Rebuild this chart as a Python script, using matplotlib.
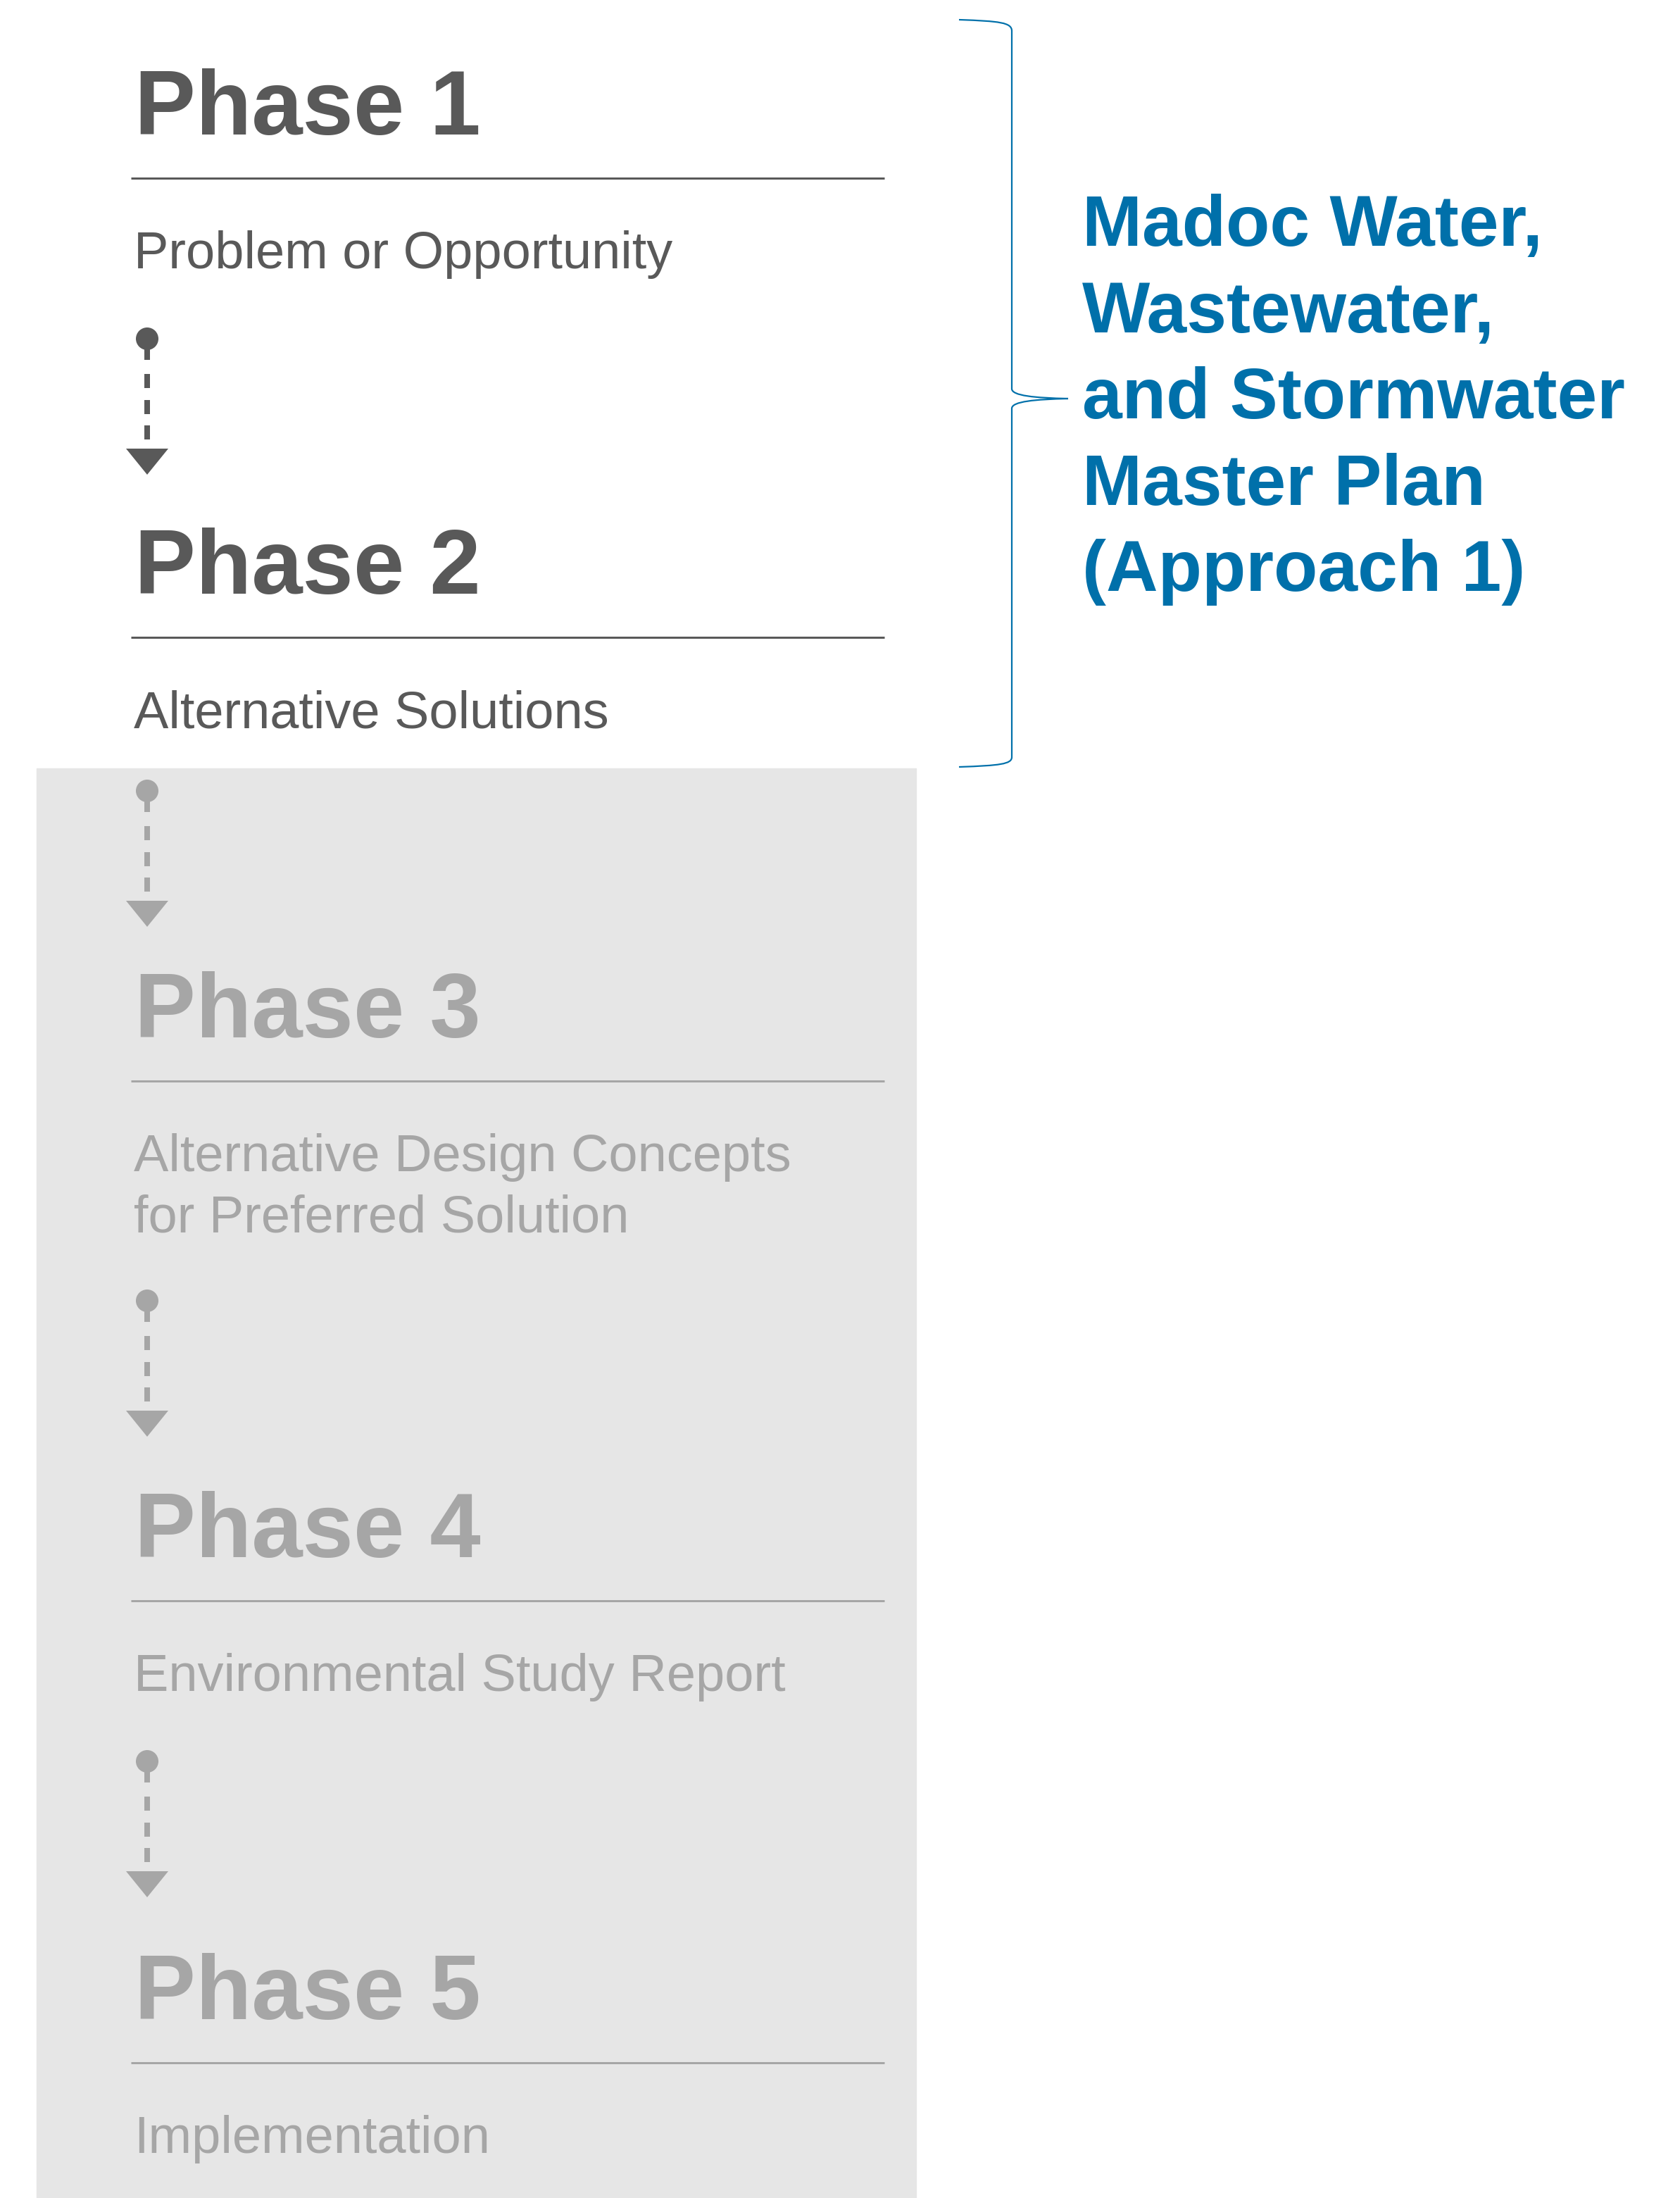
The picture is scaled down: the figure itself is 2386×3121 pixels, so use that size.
import matplotlib.pyplot as plt
from matplotlib.patches import Rectangle, Circle, Polygon, PathPatch
from matplotlib.path import Path

# Gegevens
phases = ['Phase 1', 'Phase 2', 'Phase 3', 'Phase 4', 'Phase 5']
descriptions = [
    ['Problem or Opportunity'],
    ['Alternative Solutions'],
    ['Alternative Design Concepts', 'for Preferred Solution'],
    ['Environmental Study Report'],
    ['Implementation'],
]
in_scope = [True, True, False, False, False]
bracket_label = ['Madoc Water,', 'Wastewater,', 'and Stormwater', 'Master Plan', '(Approach 1)']

# Opmaak (pixels, y naar beneden)
title_y = [191, 843, 1473, 2211, 2867]
arrow_y = [481, 1123, 1847, 2501]
dark = '#595959'
light = '#a6a6a6'
bg_grey = '#e6e6e6'
blue = '#0070aa'
font = 'Liberation Sans'
PX = 0.72  # pixels -> punten bij dpi 100

fig = plt.figure(figsize=(23.86, 31.21), dpi=100)
ax = fig.add_axes([0, 0, 1, 1])
ax.set_xlim(0, 2386)
ax.set_ylim(3121, 0)
ax.axis('off')

# grijs vlak voor de fasen buiten de scope
ax.add_patch(Rectangle((52, 1091), 1301 - 52, 3121 - 1091, color=bg_grey, zorder=0))

for i, name in enumerate(phases):
    col = dark if in_scope[i] else light
    y = title_y[i]
    ax.text(191, y, name, fontsize=130 * PX, fontweight='bold', family=font,
            color=col, va='baseline', ha='left')
    line_y = y + 62
    ax.plot([186, 1256], [line_y, line_y], color=col, lw=3 * PX, solid_capstyle='butt')
    for j, sub in enumerate(descriptions[i]):
        ax.text(190, line_y + 128 + j * 86, sub, fontsize=74 * PX, family=font,
                color=col, va='baseline', ha='left')

# pijlen tussen de fasen
for k, d in enumerate(arrow_y):
    col = dark if k == 0 else light
    ax.add_patch(Circle((209, d), 16, color=col, lw=0))
    ax.add_patch(Rectangle((205, d), 8, 30, color=col, lw=0))
    for off in [50, 87, 123]:
        ax.add_patch(Rectangle((205, d + off), 8, 20, color=col, lw=0))
    ax.add_patch(Polygon([(179, d + 156), (239, d + 156), (209, d + 193)],
                         closed=True, color=col, lw=0))

# accolade
verts = [
    (1362, 28), (1420, 30), (1437, 32), (1437, 44),
    (1437, 552),
    (1437, 562), (1470, 565), (1517, 566),
    (1470, 567), (1437, 570), (1437, 580),
    (1437, 1075),
    (1437, 1085), (1420, 1087), (1362, 1089),
]
codes = [Path.MOVETO, Path.CURVE4, Path.CURVE4, Path.CURVE4,
         Path.LINETO,
         Path.CURVE4, Path.CURVE4, Path.CURVE4,
         Path.CURVE4, Path.CURVE4, Path.CURVE4,
         Path.LINETO,
         Path.CURVE4, Path.CURVE4, Path.CURVE4]
ax.add_patch(PathPatch(Path(verts, codes), facecolor='none', edgecolor=blue, lw=2.2 * PX))

# tekst bij de accolade
for n, txt in enumerate(bracket_label):
    ax.text(1537, 349 + n * 122.5, txt, fontsize=102 * PX, fontweight='bold', family=font,
            color=blue, va='baseline', ha='left')

fig.savefig('out.png', dpi=100)
